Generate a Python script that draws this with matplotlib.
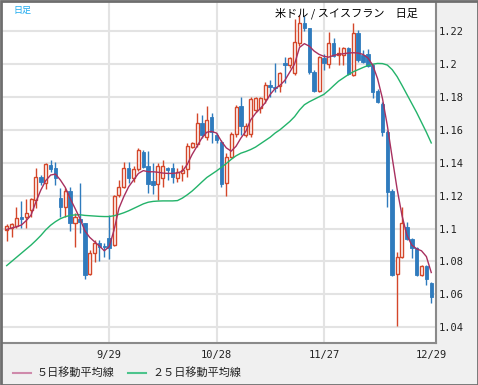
import numpy as np
import matplotlib.pyplot as plt
from matplotlib.patches import Rectangle
from matplotlib.lines import Line2D

plt.rcParams['font.family'] = ['Noto Sans CJK JP', 'DejaVu Sans']

# daily candles, USD/CHF
opens = [1.0991, 1.1005, 1.1015, 1.1068, 1.1068, 1.1113, 1.1173, 1.1311, 1.1275, 1.1384,
         1.1368, 1.1183, 1.1129, 1.1230, 1.1036, 1.1058, 1.1032, 1.0724, 1.0849, 1.0914,
         1.0896, 1.0940, 1.0900, 1.1204, 1.1250, 1.1366, 1.1305, 1.1360, 1.1467, 1.1382,
         1.1290, 1.1268, 1.1305, 1.1370, 1.1366, 1.1305, 1.1335, 1.1360, 1.1497, 1.1513,
         1.1639, 1.1558, 1.1680, 1.1568, 1.1528, 1.1275, 1.1437, 1.1572, 1.1744, 1.1568,
         1.1572, 1.1720, 1.1730, 1.1785, 1.1872, 1.1862, 1.1866, 1.2004, 1.1994, 1.1947,
         1.2129, 1.2247, 1.2216, 1.1953, 1.1838, 1.2034, 1.1999, 1.2129, 1.2054, 1.2054,
         1.2099, 1.1933, 1.2186, 1.2054, 1.2060, 1.1994, 1.1837, 1.1757, 1.1588, 1.1230,
         1.0722, 1.0829, 1.1007, 1.0934, 1.0880, 1.0718, 1.0772, 1.0671]
highs = [1.1027, 1.1036, 1.1129, 1.1169, 1.1181, 1.1187, 1.1366, 1.1325, 1.1396, 1.1416,
         1.1402, 1.1244, 1.1244, 1.1254, 1.1092, 1.1275, 1.1036, 1.0870, 1.0930, 1.0930,
         1.0914, 1.1082, 1.1204, 1.1295, 1.1406, 1.1406, 1.1380, 1.1490, 1.1480, 1.1471,
         1.1400, 1.1396, 1.1416, 1.1376, 1.1396, 1.1366, 1.1386, 1.1517, 1.1528, 1.1700,
         1.1690, 1.1744, 1.1700, 1.1578, 1.1538, 1.1457, 1.1588, 1.1750, 1.1801, 1.1639,
         1.1801, 1.1801, 1.1801, 1.1892, 1.1902, 1.2004, 1.1953, 1.2044, 1.2044, 1.2271,
         1.2297, 1.2290, 1.2220, 1.1960, 1.2050, 1.2060, 1.2196, 1.2160, 1.2105, 1.2105,
         1.2105, 1.2247, 1.2206, 1.2085, 1.2089, 1.2000, 1.1847, 1.1770, 1.1600, 1.1240,
         1.0859, 1.1129, 1.1042, 1.0940, 1.0890, 1.0778, 1.0778, 1.0677]
lows = [1.0926, 1.0951, 1.1001, 1.1001, 1.1001, 1.1072, 1.1123, 1.1264, 1.1238, 1.1345,
        1.1264, 1.1068, 1.1072, 1.0985, 1.0890, 1.0971, 1.0693, 1.0718, 1.0799, 1.0805,
        1.0829, 1.0813, 1.0896, 1.1194, 1.1244, 1.1275, 1.1280, 1.1350, 1.1365, 1.1214,
        1.1210, 1.1173, 1.1254, 1.1295, 1.1275, 1.1285, 1.1290, 1.1315, 1.1487, 1.1497,
        1.1548, 1.1538, 1.1522, 1.1522, 1.1254, 1.1198, 1.1426, 1.1558, 1.1568, 1.1554,
        1.1558, 1.1710, 1.1700, 1.1760, 1.1801, 1.1831, 1.1831, 1.1886, 1.1973, 1.1930,
        1.2110, 1.2200, 1.1940, 1.1830, 1.1830, 1.1960, 1.1973, 1.2040, 1.1994, 1.1994,
        1.1933, 1.1925, 1.2014, 1.2004, 1.1983, 1.1791, 1.1761, 1.1562, 1.1133, 1.0712,
        1.0408, 1.0819, 1.0930, 1.0819, 1.0712, 1.0712, 1.0657, 1.0545]
closes = [1.1015, 1.1025, 1.1062, 1.1056, 1.1093, 1.1177, 1.1311, 1.1285, 1.1390, 1.1364,
          1.1305, 1.1129, 1.1230, 1.1036, 1.1068, 1.1040, 1.0718, 1.0849, 1.0914, 1.0890,
          1.0886, 1.0880, 1.1200, 1.1250, 1.1366, 1.1305, 1.1360, 1.1477, 1.1376, 1.1268,
          1.1265, 1.1380, 1.1382, 1.1356, 1.1315, 1.1346, 1.1356, 1.1503, 1.1522, 1.1639,
          1.1568, 1.1659, 1.1588, 1.1538, 1.1268, 1.1437, 1.1572, 1.1740, 1.1623, 1.1625,
          1.1785, 1.1791, 1.1791, 1.1872, 1.1862, 1.1852, 1.1943, 1.1994, 1.2034, 1.2135,
          1.2247, 1.2216, 1.1953, 1.1838, 1.2040, 1.2004, 1.2129, 1.2048, 1.2064, 1.2095,
          1.1939, 1.2186, 1.2024, 1.2014, 1.1989, 1.1831, 1.1771, 1.1588, 1.1224, 1.0718,
          1.0829, 1.1036, 1.0934, 1.0880, 1.0718, 1.0772, 1.0691, 1.0586]

ma5 = [1.0995, 1.1003, 1.1011, 1.1021, 1.1048, 1.1082, 1.1163, 1.1234, 1.1291, 1.1325,
       1.1331, 1.1295, 1.1250, 1.1183, 1.1123, 1.1062, 1.0987, 1.0947, 1.0920, 1.0894,
       1.0865, 1.0890, 1.0991, 1.1123, 1.1194, 1.1254, 1.1295, 1.1335, 1.1352, 1.1345,
       1.1345, 1.1342, 1.1337, 1.1335, 1.1335, 1.1338, 1.1348, 1.1390, 1.1450, 1.1500,
       1.1550, 1.1585, 1.1590, 1.1580, 1.1530, 1.1490, 1.1470, 1.1500, 1.1550, 1.1590,
       1.1660, 1.1700, 1.1730, 1.1765, 1.1815, 1.1850, 1.1870, 1.1900, 1.1950, 1.2000,
       1.2100, 1.2123, 1.2108, 1.2078, 1.2058, 1.2046, 1.2041, 1.2052, 1.2058, 1.2062,
       1.2066, 1.2068, 1.2066, 1.2058, 1.2037, 1.1993, 1.1910, 1.1790, 1.1625, 1.1430,
       1.1240, 1.1080, 1.0960, 1.0900, 1.0877, 1.0865, 1.0830, 1.0733]
ma25 = [1.0775, 1.0800, 1.0825, 1.0850, 1.0875, 1.0900, 1.0928, 1.0958, 1.0992, 1.1020,
        1.1042, 1.1060, 1.1072, 1.1080, 1.1083, 1.1084, 1.1080, 1.1078, 1.1076, 1.1074,
        1.1073, 1.1073, 1.1078, 1.1086, 1.1096, 1.1108, 1.1122, 1.1136, 1.1150, 1.1160,
        1.1165, 1.1167, 1.1168, 1.1168, 1.1168, 1.1170, 1.1185, 1.1205, 1.1228, 1.1255,
        1.1283, 1.1310, 1.1330, 1.1350, 1.1372, 1.1395, 1.1420, 1.1442, 1.1458, 1.1468,
        1.1480, 1.1495, 1.1515, 1.1535, 1.1555, 1.1580, 1.1600, 1.1625, 1.1650, 1.1680,
        1.1720, 1.1752, 1.1770, 1.1785, 1.1800, 1.1815, 1.1840, 1.1868, 1.1895, 1.1915,
        1.1935, 1.1952, 1.1965, 1.1978, 1.1990, 1.1998, 1.2003, 1.2002, 1.1993, 1.1965,
        1.1923, 1.1870, 1.1815, 1.1760, 1.1705, 1.1645, 1.1585, 1.1520]

tick_pos = [21, 43, 65, 87]
tick_labels = ['9/29', '10/28', '11/27', '12/29']
yticks = [1.04, 1.06, 1.08, 1.10, 1.12, 1.14, 1.16, 1.18, 1.20, 1.22]
ylabels = ['1.04', '1.06', '1.08', '1.1', '1.12', '1.14', '1.16', '1.18', '1.2', '1.22']

UP = '#d4472a'
DOWN = '#2f7bbd'

fig = plt.figure(figsize=(4.78, 3.85), dpi=100, facecolor='#f0f0f0')
ax = fig.add_axes([2/478, 1 - 343/385, 434/478, 341/385])
ax.set_facecolor('white')

x = np.arange(len(closes))
o = np.array(opens); c = np.array(closes)
h = np.array(highs); l = np.array(lows)
up = c >= o

ax.vlines(x[up], l[up], h[up], color=UP, lw=1, zorder=2)
ax.vlines(x[~up], l[~up], h[~up], color=DOWN, lw=1, zorder=2)
ax.bar(x[up], c[up] - o[up], bottom=o[up], width=0.62, facecolor='white',
       edgecolor=UP, lw=1, zorder=3)
ax.bar(x[~up], o[~up] - c[~up], bottom=c[~up], width=0.72, facecolor=DOWN,
       edgecolor=DOWN, lw=0.6, zorder=3)

ax.plot(x, ma25, color='#23b36a', lw=1, zorder=4)
ax.plot(x, ma5, color='#a8305f', lw=1, zorder=4)

ax.set_xlim(-0.96, 87.97)
ax.set_ylim(1.0305, 1.2376)
ax.set_xticks(tick_pos)
ax.set_xticklabels(tick_labels)
ax.set_yticks(yticks)
ax.set_yticklabels(ylabels)
ax.yaxis.tick_right()
ax.tick_params(length=0, labelsize=7.5, colors='#222222')
ax.tick_params(axis='y', pad=2)
ax.tick_params(axis='x', pad=5)
for t in ax.get_xticklabels() + ax.get_yticklabels():
    t.set_family('DejaVu Sans Mono')
ax.grid(True, color='#e3e3e3', lw=1.5, zorder=0)
ax.xaxis.get_gridlines()[-1].set_visible(False)
ax.set_axisbelow(True)

for s in ['top', 'left']:
    ax.spines[s].set_visible(False)
for s in ['right', 'bottom']:
    ax.spines[s].set_color('#8a8a8a')
    ax.spines[s].set_linewidth(1.5)

ax.text(0.958, 0.985, '米ドル / スイスフラン　日足', transform=ax.transAxes,
        ha='right', va='top', fontsize=8, color='black')
ax.text(0.027, 0.99, '日足', transform=ax.transAxes, ha='left', va='top',
        fontsize=6.5, color='#1aa9ef')

# legend along the bottom
ly = 1 - 373/385
fig.add_artist(Line2D([13/478, 31/478], [ly, ly], color='#cf8aab', lw=1.5))
fig.text(37/478, ly, '５日移動平均線', fontsize=8, va='center', ha='left', color='#222222')
fig.add_artist(Line2D([128/478, 146/478], [ly, ly], color='#4cc48c', lw=1.5))
fig.text(152/478, ly, '２５日移動平均線', fontsize=8, va='center', ha='left', color='#222222')

# outer frame
fig.add_artist(Rectangle((0.5/478, 0.5/385), 477/478, 384/385, transform=fig.transFigure,
                         fill=False, edgecolor='#6e6e6e', lw=2))

fig.savefig('out.png', dpi=100, facecolor=fig.get_facecolor())
